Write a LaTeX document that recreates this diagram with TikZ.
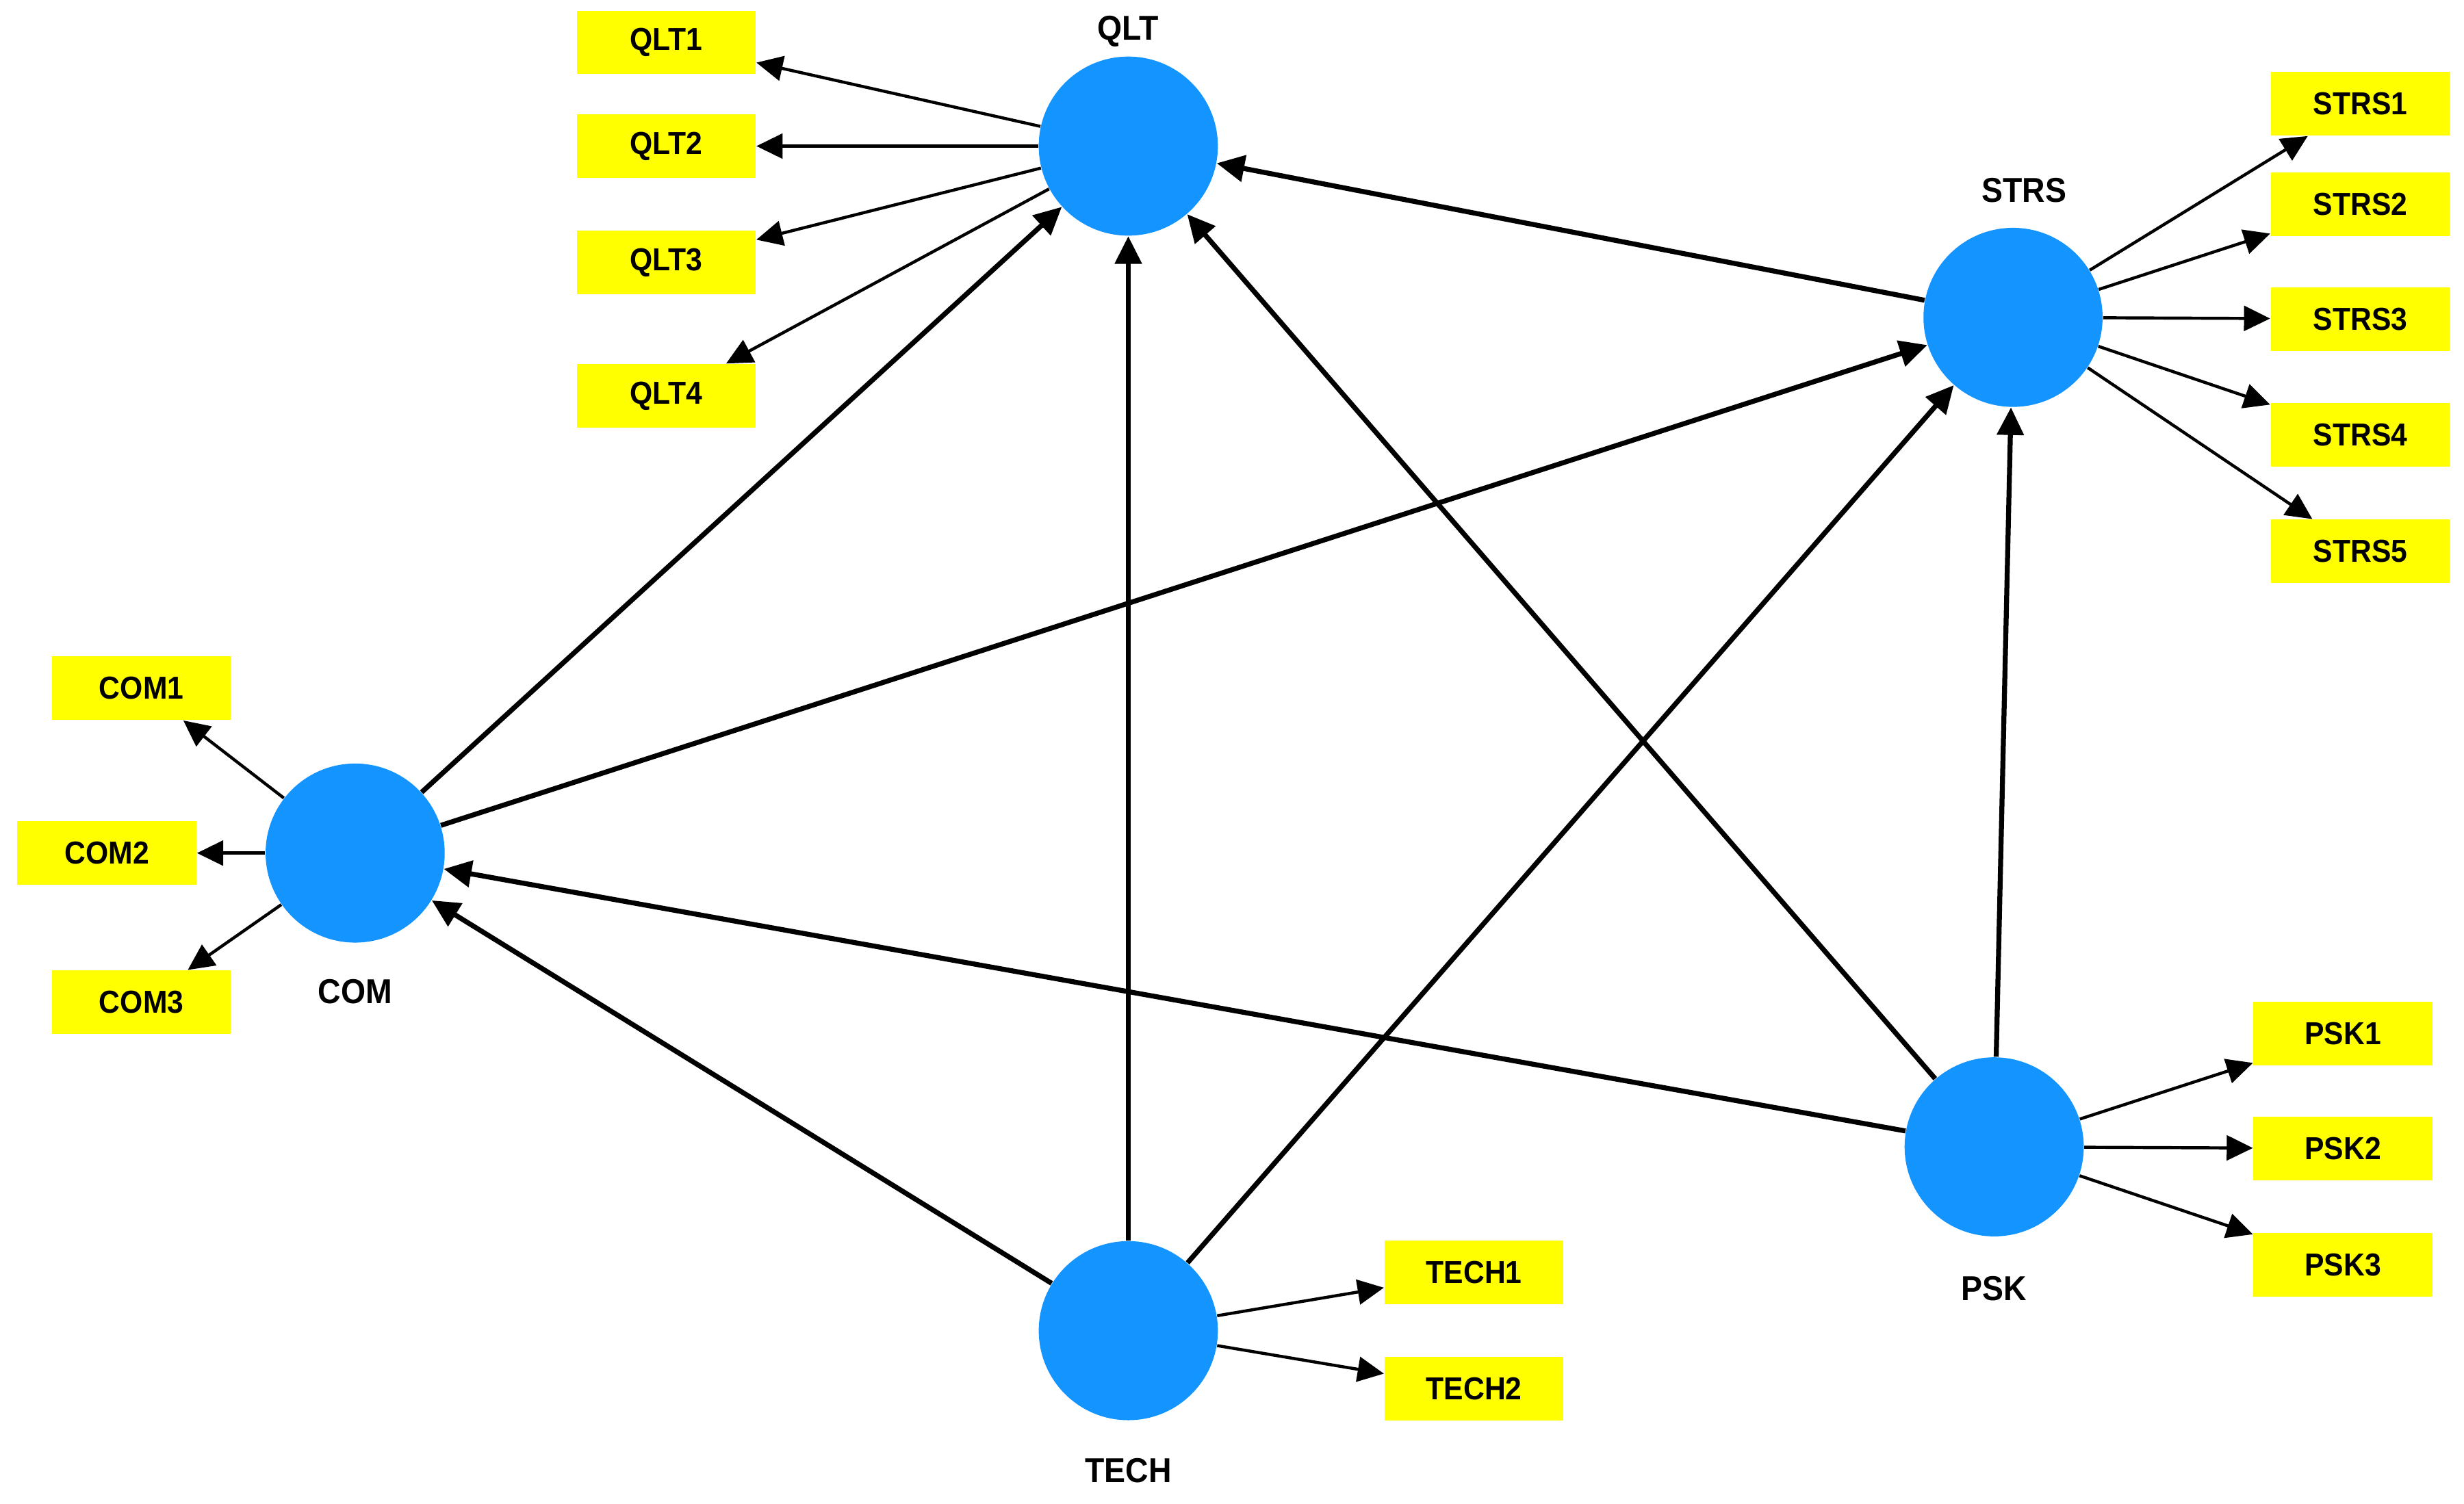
\documentclass[tikz,border=0pt]{standalone}
\usepackage{fontspec}
\setmainfont{Liberation Sans}[FakeStretch=0.92]
\usetikzlibrary{arrows.meta}
\definecolor{latblue}{RGB}{20,148,255}
\definecolor{indyellow}{RGB}{255,255,0}
\begin{document}
\begin{tikzpicture}[x=0.02cm,y=-0.02cm,
  lat/.style={circle,fill=latblue,draw=none,minimum size=2.28cm,inner sep=0pt},
  latlab/.style={font=\fontsize{12.5}{14}\selectfont\bfseries,inner sep=0pt},
  ind/.style={rectangle,fill=indyellow,draw=none,minimum width=2.28cm,minimum height=0.81cm,inner sep=0pt,font=\fontsize{11.5}{13}\selectfont\bfseries},
  outarr/.style={-{Triangle[length=9.5pt,width=9pt]},line width=1.1pt,black},
  inarr/.style={-{Triangle[length=10pt,width=9.5pt]},line width=1.8pt,black}]
\useasboundingbox (0,0) rectangle (1568,957);
% latent variables
\node[lat] (QLT) at (718,93) {};
\node[lat] (STRS) at (1281,202) {};
\node[lat] (COM) at (226,543) {};
\node[lat] (TECH) at (718,847) {};
\node[lat] (PSK) at (1269,730) {};
\node[latlab] (QLTl) at (718,20) {QLT};
\node[latlab] (STRSl) at (1288,121) {STRS};
\node[latlab] (COMl) at (226,631) {COM};
\node[latlab] (TECHl) at (718,936) {TECH};
\node[latlab] (PSKl) at (1269,820) {PSK};
% indicators
\node[ind] (QLT1) at (424,27) {QLT1};
\node[ind] (QLT2) at (424,93) {QLT2};
\node[ind] (QLT3) at (424,167) {QLT3};
\node[ind] (QLT4) at (424,252) {QLT4};
\node[ind] (STRS1) at (1502,66) {STRS1};
\node[ind] (STRS2) at (1502,130) {STRS2};
\node[ind] (STRS3) at (1502,203) {STRS3};
\node[ind] (STRS4) at (1502,277) {STRS4};
\node[ind] (STRS5) at (1502,351) {STRS5};
\node[ind] (COM1) at (90,438) {COM1};
\node[ind] (COM2) at (68,543) {COM2};
\node[ind] (COM3) at (90,638) {COM3};
\node[ind] (TECH1) at (938,810) {TECH1};
\node[ind] (TECH2) at (938,884) {TECH2};
\node[ind] (PSK1) at (1491,658) {PSK1};
\node[ind] (PSK2) at (1491,731) {PSK2};
\node[ind] (PSK3) at (1491,805) {PSK3};
% outer model
\foreach \i in {1,2,3,4} \draw[outarr] (QLT) -- (QLT\i);
\foreach \i in {1,2,3,4,5} \draw[outarr] (STRS) -- (STRS\i);
\foreach \i in {1,2,3} \draw[outarr] (COM) -- (COM\i);
\foreach \i in {1,2} \draw[outarr] (TECH) -- (TECH\i);
\foreach \i in {1,2,3} \draw[outarr] (PSK) -- (PSK\i);
% inner model
\draw[inarr] (COM) -- (QLT);
\draw[inarr] (COM) -- (STRS);
\draw[inarr] (TECH) -- (COM);
\draw[inarr] (TECH) -- (QLT);
\draw[inarr] (TECH) -- (STRS);
\draw[inarr] (PSK) -- (COM);
\draw[inarr] (PSK) -- (QLT);
\draw[inarr] (PSK) -- (STRS);
\draw[inarr] (STRS) -- (QLT);
\end{tikzpicture}
\end{document}
